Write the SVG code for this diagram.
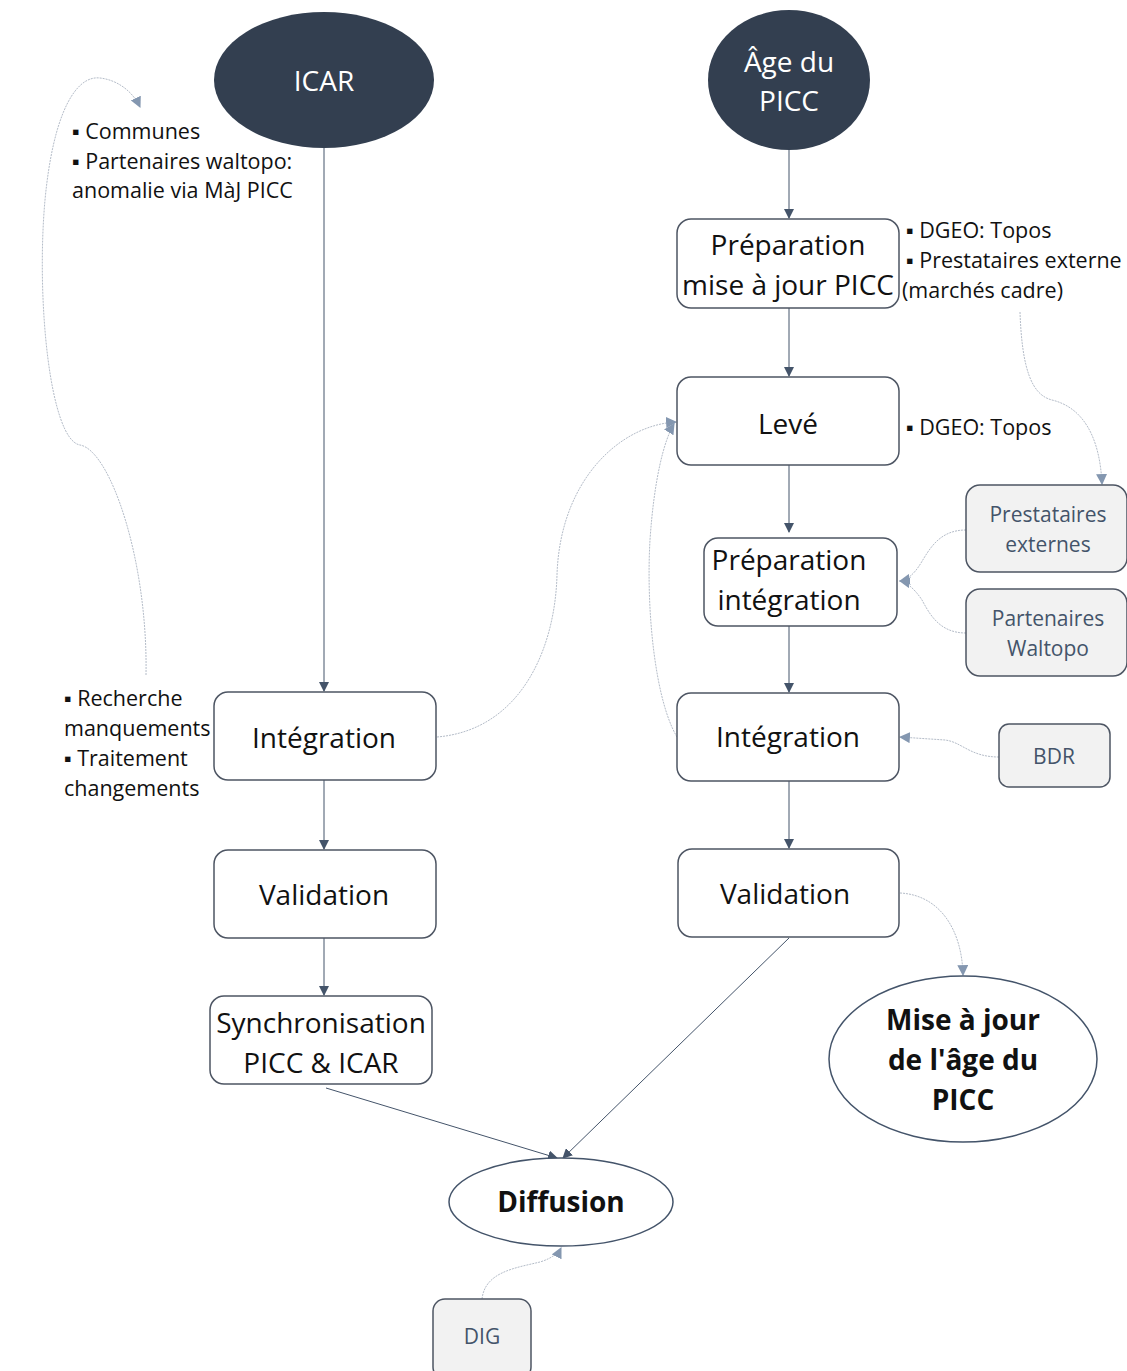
<svg xmlns="http://www.w3.org/2000/svg" width="1127" height="1371" viewBox="0 0 1127 1371">
<defs>
<marker id="ad" viewBox="0 0 10 10" refX="9" refY="5" markerWidth="10" markerHeight="10" markerUnits="userSpaceOnUse" orient="auto"><path d="M0,0 L10,5 L0,10 z" fill="#44546a"/></marker>
<marker id="al" viewBox="0 0 10 10" refX="9" refY="5" markerWidth="11" markerHeight="11" markerUnits="userSpaceOnUse" orient="auto"><path d="M0,0 L10,5 L0,10 z" fill="#8497b0"/></marker>
</defs>
<style>
text{font-family:"Open Sans","Liberation Sans",sans-serif;}
.box{fill:#fff;stroke:#4d5563;stroke-width:1.5;}
.gbox{fill:#f2f2f2;stroke:#4d5563;stroke-width:1.5;}
.dark{fill:#333f50;}
.t{font-size:28px;fill:#111;text-anchor:middle;}
.tw{font-size:28px;fill:#fff;text-anchor:middle;}
.tb{font-size:28px;fill:#111;font-weight:bold;text-anchor:middle;}
.tg{font-size:21px;fill:#44546a;text-anchor:middle;}
.s{font-size:21.5px;fill:#111;}
.c{fill:none;stroke:#44546a;stroke-width:1;marker-end:url(#ad);}
.d{fill:none;stroke:#b4bcc8;stroke-width:1;stroke-dasharray:2 1;marker-end:url(#al);}
.e{fill:#fff;stroke:#44546a;stroke-width:1.5;}
</style>
<rect width="1127" height="1371" fill="#fff"/>
<g id="connectors">
<line class="c" x1="324" y1="148" x2="324" y2="691"/>
<line class="c" x1="324" y1="780" x2="324" y2="849"/>
<line class="c" x1="324" y1="938" x2="324" y2="995"/>
<line class="c" x1="326" y1="1088" x2="557" y2="1158"/>
<line class="c" x1="789" y1="150" x2="789" y2="218"/>
<line class="c" x1="789" y1="308" x2="789" y2="376"/>
<line class="c" x1="789" y1="465" x2="789" y2="532"/>
<line class="c" x1="789" y1="626" x2="789" y2="692"/>
<line class="c" x1="789" y1="781" x2="789" y2="848"/>
<line class="c" x1="789" y1="938" x2="563" y2="1158"/>
<path class="d" d="M146,675 C148,560 110,450 80,445 C50,440 36,300 45,200 C53,115 75,75 100,78 C118,80 133,92 140,107"/>
<path class="d" d="M437,737 C520,730 555,650 557,575 C560,480 620,425 676,422"/>
<path class="d" d="M677,737 C655,700 646,610 650,540 C654,480 664,440 674,424"/>
<path class="d" d="M1020,312 C1022,370 1032,395 1052,400 C1085,408 1100,440 1102,484"/>
<path class="d" d="M966,530 C940,530 930,548 921,563 C913,576 906,580 900,581"/>
<path class="d" d="M966,633 C940,633 930,615 922,600 C914,588 906,582 900,581"/>
<path class="d" d="M999,757 C970,757 962,742 945,740 L900,737"/>
<path class="d" d="M900,893 C940,895 962,930 963,975"/>
<path class="d" d="M482,1299 C485,1272 515,1268 540,1262 C553,1258 559,1252 561,1248"/>
</g>
<g id="icar"><ellipse class="dark" cx="324" cy="80" rx="110" ry="68"/><text class="tw" x="324" y="91">ICAR</text></g>
<g id="age"><ellipse class="dark" cx="789" cy="80" rx="81" ry="70"/><text class="tw" x="789" y="72">Âge du</text><text class="tw" x="789" y="111">PICC</text></g>
<g id="note-communes"><text class="s" x="72" y="139">▪ Communes</text><text class="s" x="72" y="169">▪ Partenaires waltopo:</text><text class="s" x="72" y="198">anomalie via MàJ PICC</text></g>
<g id="prep-maj"><rect class="box" x="677" y="219" width="222" height="89" rx="14"/><text class="t" x="788" y="255">Préparation</text><text class="t" x="788" y="295">mise à jour PICC</text></g>
<g id="note-dgeo1"><text class="s" x="906" y="238">▪ DGEO: Topos</text><text class="s" x="906" y="268">▪ Prestataires externe</text><text class="s" x="902" y="298">(marchés cadre)</text></g>
<g id="leve"><rect class="box" x="677" y="377" width="222" height="88" rx="14"/><text class="t" x="788" y="434">Levé</text></g>
<g id="note-dgeo2"><text class="s" x="906" y="435">▪ DGEO: Topos</text></g>
<g id="prep-int"><rect class="box" x="704" y="538" width="193" height="88" rx="14"/><text class="t" x="789" y="570">Préparation</text><text class="t" x="789" y="610">intégration</text></g>
<g id="prest-ext"><rect class="gbox" x="966" y="485" width="161" height="87" rx="14"/><text class="tg" x="1048" y="522">Prestataires</text><text class="tg" x="1048" y="552">externes</text></g>
<g id="part-walt"><rect class="gbox" x="966" y="589" width="161" height="87" rx="14"/><text class="tg" x="1048" y="626">Partenaires</text><text class="tg" x="1048" y="656">Waltopo</text></g>
<g id="int-r"><rect class="box" x="677" y="693" width="222" height="88" rx="14"/><text class="t" x="788" y="747">Intégration</text></g>
<g id="bdr"><rect class="gbox" x="999" y="724" width="111" height="63" rx="10"/><text class="tg" x="1054" y="764">BDR</text></g>
<g id="val-r"><rect class="box" x="678" y="849" width="221" height="88" rx="14"/><text class="t" x="785" y="904">Validation</text></g>
<g id="maj-age"><ellipse class="e" cx="963" cy="1059" rx="134" ry="83"/><text class="tb" x="963" y="1030">Mise à jour</text><text class="tb" x="963" y="1070">de l'âge du</text><text class="tb" x="963" y="1110">PICC</text></g>
<g id="note-rech"><text class="s" x="64" y="706">▪ Recherche</text><text class="s" x="64" y="736">manquements</text><text class="s" x="64" y="766">▪ Traitement</text><text class="s" x="64" y="796">changements</text></g>
<g id="int-l"><rect class="box" x="214" y="692" width="222" height="88" rx="14"/><text class="t" x="324" y="748">Intégration</text></g>
<g id="val-l"><rect class="box" x="214" y="850" width="222" height="88" rx="14"/><text class="t" x="324" y="905">Validation</text></g>
<g id="sync"><rect class="box" x="210" y="996" width="222" height="88" rx="14"/><text class="t" x="321" y="1033">Synchronisation</text><text class="t" x="321" y="1073">PICC &amp; ICAR</text></g>
<g id="diffusion"><ellipse class="e" cx="561" cy="1202" rx="112" ry="44"/><text class="tb" x="561" y="1212">Diffusion</text></g>
<g id="dig"><rect class="gbox" x="433" y="1299" width="98" height="80" rx="12"/><text class="tg" x="482" y="1344">DIG</text></g>
</svg>
